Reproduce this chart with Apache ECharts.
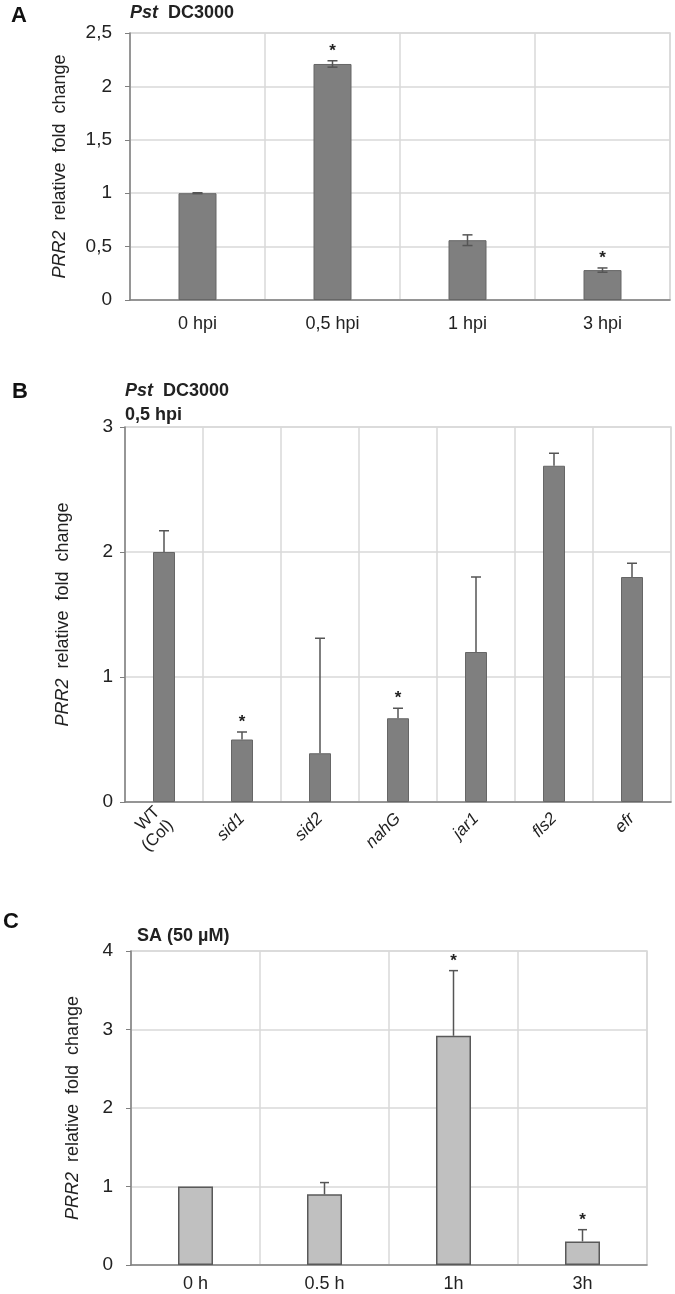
<!DOCTYPE html>
<html><head><meta charset="utf-8">
<script src="https://cdn.jsdelivr.net/npm/echarts@6/dist/echarts.min.js"></script>
<style>html,body{margin:0;padding:0;background:#fff}#c{width:675px;height:1294px}</style>
</head><body><div id="c"></div>
<script>
// Panel A: Pst DC3000 time course
const catsA = ['0 hpi', '0,5 hpi', '1 hpi', '3 hpi'];
const valsA = [1.0, 2.21, 0.56, 0.28];
const errA = [0.004, 0.03, 0.05, 0.02];
const sigA = [false, true, false, true];
const ticksA = [0, 0.5, 1, 1.5, 2, 2.5];

// Panel B: mutants at 0,5 hpi
const catsB = ['WT\n(Col)', 'sid1', 'sid2', 'nahG', 'jar1', 'fls2', 'efr'];
const valsB = [2.0, 0.5, 0.39, 0.67, 1.2, 2.69, 1.8];
const errB = [0.17, 0.06, 0.92, 0.08, 0.6, 0.1, 0.11];
const sigB = [false, true, false, true, false, false, false];
const ticksB = [0, 1, 2, 3];

// Panel C: SA (50 µM)
const catsC = ['0 h', '0.5 h', '1h', '3h'];
const valsC = [1.0, 0.9, 2.92, 0.3];
const errC = [0, 0.15, 0.83, 0.15];
const sigC = [false, false, true, true];
const ticksC = [0, 1, 2, 3, 4];

const FONT = 'Liberation Sans, Arial, sans-serif';
const chart = echarts.init(document.getElementById('c'), null, {renderer: 'canvas'});

function errSeries(idx, vals, errs, sigs, twoSided, capW) {
  return {
    type: 'custom', xAxisIndex: idx, yAxisIndex: idx, z: 5,
    data: vals.map((v, i) => [i, v, errs[i], sigs[i] ? 1 : 0]),
    renderItem: function (params, api) {
      const i = api.value(0), v = api.value(1), e = api.value(2), s = api.value(3);
      const top = api.coord([i, v + e]);
      const bot = api.coord([i, twoSided ? v - e : v]);
      const ch = [];
      const st = {stroke: '#555', lineWidth: 1.5};
      if (e > 0) {
        ch.push({type: 'line', shape: {x1: top[0], y1: top[1], x2: bot[0], y2: bot[1]}, style: st});
        ch.push({type: 'line', shape: {x1: top[0] - capW / 2, y1: top[1], x2: top[0] + capW / 2, y2: top[1]}, style: st});
        if (twoSided) ch.push({type: 'line', shape: {x1: bot[0] - capW / 2, y1: bot[1], x2: bot[0] + capW / 2, y2: bot[1]}, style: st});
      }
      if (s) {
        ch.push({type: 'text', style: {text: '*', x: top[0], y: top[1] - 1, align: 'center', verticalAlign: 'bottom', font: 'bold 17px ' + FONT, fill: '#222'}});
      }
      return {type: 'group', children: ch};
    }
  };
}

function yAxis(idx, max, interval, gap, margin, fmt) {
  return {
    gridIndex: idx, type: 'value', min: 0, max: max, interval: interval,
    name: '{i|PRR2}  relative  fold  change',
    nameLocation: 'middle', nameRotate: 90, nameGap: gap,
    nameTextStyle: {fontFamily: FONT, fontSize: 18, color: '#222',
      rich: {i: {fontStyle: 'italic', fontFamily: FONT, fontSize: 18, color: '#222'}}},
    axisLine: {show: true, lineStyle: {color: '#7f7f7f', width: 1.5}},
    axisTick: {show: true, length: 5, lineStyle: {color: '#7f7f7f'}},
    axisLabel: {fontFamily: FONT, fontSize: 19, color: '#222', margin: margin, formatter: fmt},
    splitLine: {show: true, lineStyle: {color: '#d9d9d9', width: 1.5}}
  };
}

function xAxis(idx, cats, labelOpts) {
  return {
    gridIndex: idx, type: 'category', data: cats,
    axisLine: {show: true, lineStyle: {color: '#7f7f7f', width: 1.5}},
    axisTick: {show: false},
    splitLine: {show: true, lineStyle: {color: '#d9d9d9', width: 1.5}},
    axisLabel: Object.assign({fontFamily: FONT, fontSize: 18, color: '#222', interval: 0}, labelOpts)
  };
}

const option = {
  backgroundColor: '#fff',
  animation: false,
  grid: [
    {left: 130, top: 33, width: 540, height: 267, show: true, borderColor: '#d9d9d9', borderWidth: 1.5},
    {left: 125, top: 427, width: 546, height: 375, show: true, borderColor: '#d9d9d9', borderWidth: 1.5},
    {left: 131, top: 951, width: 516, height: 314, show: true, borderColor: '#d9d9d9', borderWidth: 1.5}
  ],
  xAxis: [
    xAxis(0, catsA, {margin: 15}),
    xAxis(1, catsB, {rotate: 45, margin: 14, fontSize: 17, lineHeight: 19,
      formatter: v => v.indexOf('WT') === 0 ? v : '{i|' + v + '}',
      rich: {i: {fontStyle: 'italic', fontFamily: FONT, fontSize: 17, color: '#222'}}}),
    xAxis(2, catsC, {margin: 10})
  ],
  yAxis: [
    yAxis(0, 2.5, 0.5, 61, 18, v => String(v).replace('.', ',')),
    yAxis(1, 3, 1, 53, 12),
    yAxis(2, 4, 1, 49, 18)
  ],
  series: [
    {type: 'bar', xAxisIndex: 0, yAxisIndex: 0, data: valsA, barWidth: 38,
      itemStyle: {color: '#7f7f7f', borderColor: '#666', borderWidth: 1}},
    errSeries(0, valsA, errA, sigA, true, 10),
    {type: 'bar', xAxisIndex: 1, yAxisIndex: 1, data: valsB, barWidth: 22,
      itemStyle: {color: '#7f7f7f', borderColor: '#666', borderWidth: 1}},
    errSeries(1, valsB, errB, sigB, false, 10),
    {type: 'bar', xAxisIndex: 2, yAxisIndex: 2, data: valsC, barWidth: 35,
      itemStyle: {color: '#c0c0c0', borderColor: '#595959', borderWidth: 1.5}},
    errSeries(2, valsC, errC, sigC, false, 9)
  ],
  graphic: [
    {type: 'text', left: 11, top: 5, style: {text: 'A', font: 'bold 22px ' + FONT, fill: '#111'}},
    {type: 'text', left: 130, top: 4, style: {text: '{i|Pst}  DC3000', font: 'bold 18px ' + FONT, fill: '#222',
      rich: {i: {fontStyle: 'italic', fontWeight: 'bold', fontSize: 18, fontFamily: FONT, fill: '#222'}}}},
    {type: 'text', left: 12, top: 381, style: {text: 'B', font: 'bold 22px ' + FONT, fill: '#111'}},
    {type: 'text', left: 125, top: 382, style: {text: '{i|Pst}  DC3000', font: 'bold 18px ' + FONT, fill: '#222',
      rich: {i: {fontStyle: 'italic', fontWeight: 'bold', fontSize: 18, fontFamily: FONT, fill: '#222'}}}},
    {type: 'text', left: 125, top: 406, style: {text: '0,5 hpi', font: 'bold 18px ' + FONT, fill: '#222'}},
    {type: 'text', left: 3, top: 911, style: {text: 'C', font: 'bold 22px ' + FONT, fill: '#111'}},
    {type: 'text', left: 137, top: 927, style: {text: 'SA (50 µM)', font: 'bold 18px ' + FONT, fill: '#222'}}
  ]
};
chart.setOption(option);
</script>
</body></html>
